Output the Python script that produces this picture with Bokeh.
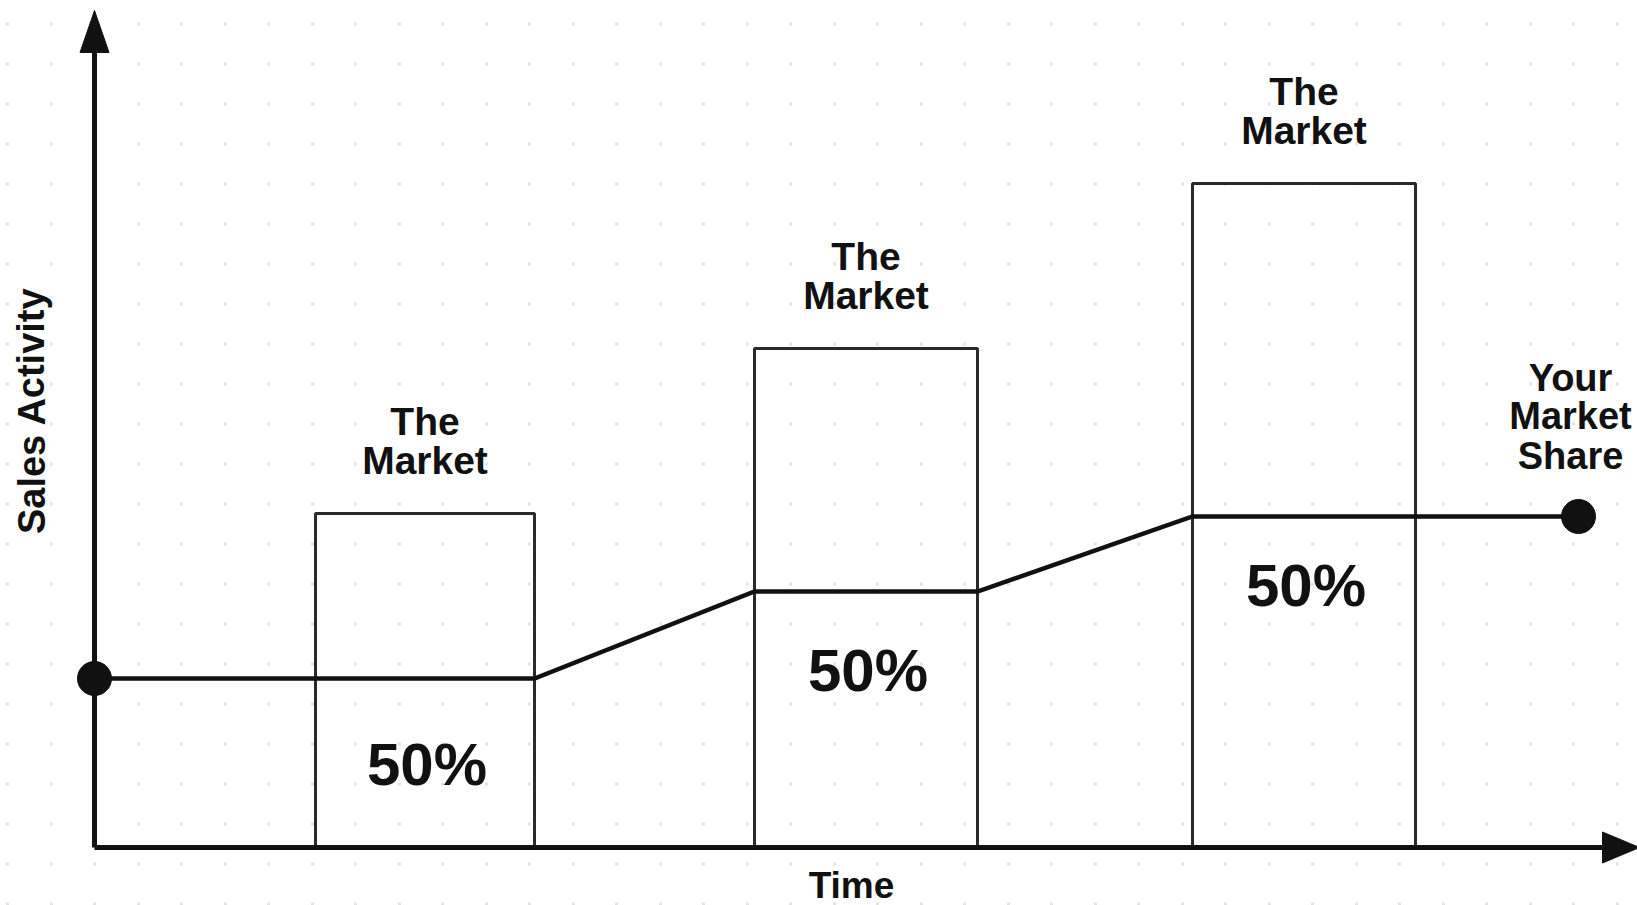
from bokeh.plotting import figure
from bokeh.models import Range1d, ColumnDataSource, SingleIntervalTicker, Grid
from bokeh.core.properties import value
from bokeh.embed import file_html
from bokeh.resources import INLINE

# ---- data (time units on x, sales activity units on y) ----
bar_left = [22.1, 66.0, 109.8]
bar_right = [44.0, 88.3, 132.1]
market_size = [33.4, 49.9, 66.4]
share_x = [0.0, 44.0, 66.0, 88.3, 109.8, 148.4]
share_y = [16.9, 16.9, 25.6, 25.6, 33.1, 33.1]
share_pct = ["50%", "50%", "50%"]
pct_label_y = [8.3, 17.7, 26.2]
market_lines = ["The", "Market"]
share_label_lines = ["Your", "Market", "Share"]
x_label = "Time"
y_label = "Sales Activity"

W, H = 1637, 905
X0 = -9.4
Y1 = 84.7
X1 = X0 + W / 10
Y0 = Y1 - H / 10
px_x = (X1 - X0) / W
px_y = (Y1 - Y0) / H

FONT = value("Liberation Sans")
INK = "#111111"

p = figure(width=W, height=H, output_backend="svg", toolbar_location=None,
           x_range=Range1d(X0, X1), y_range=Range1d(Y0, Y1),
           x_axis_type=None, y_axis_type=None, min_border=0)
p.outline_line_color = None
p.background_fill_color = "white"

# faint dotted paper (dashed vertical grid lines give a dot lattice)
p.add_layout(Grid(dimension=0, ticker=SingleIntervalTicker(interval=4.35),
                  grid_line_color="#e2e2e2", grid_line_width=3,
                  grid_line_dash="3 37"))

# market bars
bars = ColumnDataSource(dict(left=bar_left, right=bar_right, top=market_size,
                             bottom=[0] * len(bar_left)))
p.quad(left="left", right="right", top="top", bottom="bottom", source=bars,
       fill_color=None, line_color="#2a2a2a", line_width=3)

# market labels (two lines above each bar)
mx, my, mt, moff = [], [], [], []
for l, r, t in zip(bar_left, bar_right, market_size):
    for i, word in enumerate(market_lines):
        mx.append((l + r) / 2)
        my.append(t)
        mt.append(word)
        moff.append(-53 - 39 * (len(market_lines) - 1 - i))
p.text(x=mx, y=my, text=mt, y_offset=moff, text_font=FONT, text_font_style="bold",
       text_font_size="39px", text_align="center", text_baseline="alphabetic",
       text_color=INK)

# percent labels
p.text(x=[(l + r) / 2 + 0.2 for l, r in zip(bar_left, bar_right)], y=pct_label_y,
       text=share_pct, text_font=FONT, text_font_style="bold", text_font_size="60px",
       text_align="center", text_baseline="alphabetic", text_color=INK)

# axes with arrow heads
hx_len, hx_w = 37 * px_x, 31 * px_y
hy_len, hy_w = 42 * px_y, 29 * px_x
x_tip = 154.5
y_tip = 83.7
p.segment(x0=[0, 0], y0=[0, 0], x1=[x_tip - hx_len, 0], y1=[0, y_tip - hy_len],
          line_color=INK, line_width=5)
p.patches(xs=[[x_tip - hx_len, x_tip, x_tip - hx_len], [-hy_w / 2, 0, hy_w / 2]],
          ys=[[-hx_w / 2, 0, hx_w / 2], [y_tip - hy_len, y_tip, y_tip - hy_len]],
          fill_color=INK, line_color=INK, line_width=1)

# market share line
p.line(share_x, share_y, line_color=INK, line_width=4.5, line_join="miter")
p.scatter([share_x[0], share_x[-1]], [share_y[0], share_y[-1]], size=34,
          fill_color=INK, line_color=INK)

# "Your Market Share"
p.text(x=[share_x[-1] - 0.8] * 3, y=[share_y[-1]] * 3, text=share_label_lines,
       y_offset=[-139, -101, -61], text_font=FONT, text_font_style="bold",
       text_font_size="38px", text_align="center", text_baseline="alphabetic",
       text_color=INK)

# axis titles
p.text(x=[(851 - 94) / 10], y=[Y0], text=[x_label], y_offset=[0], text_font=FONT,
       text_font_style="bold", text_font_size="37px", text_align="center",
       text_baseline="bottom", text_color=INK)
p.text(x=[X0], y=[(847 - 410) / 10], text=[y_label], x_offset=[31], angle=1.5708,
       text_font=FONT, text_font_style="bold", text_font_size="38px",
       text_align="center", text_baseline="middle", text_color=INK)

open("out.html", "w").write(file_html(p, INLINE))
